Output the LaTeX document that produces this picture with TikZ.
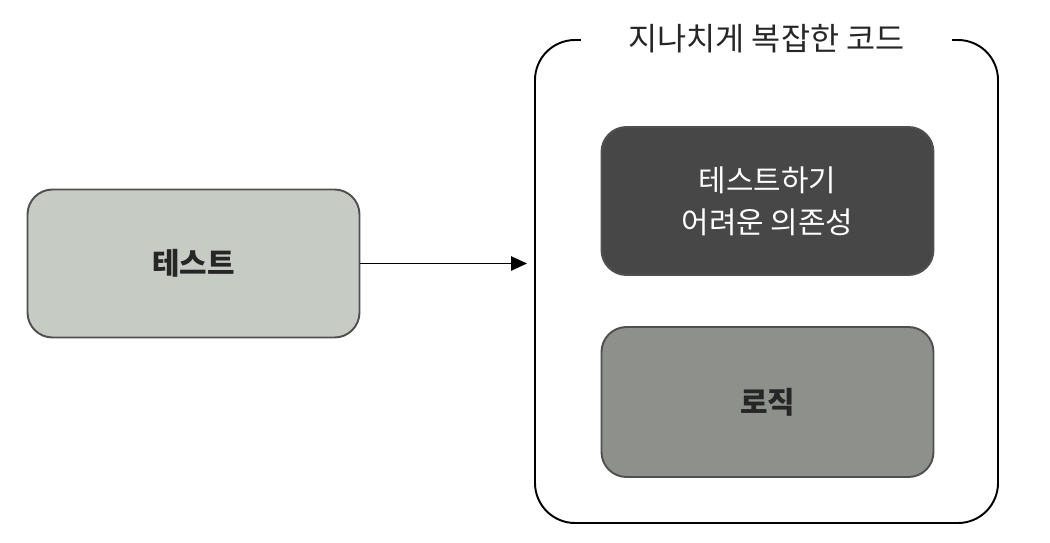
\documentclass[tikz,border=0pt]{standalone}
\usepackage{fontspec}
\usepackage{tikz}
\usetikzlibrary{arrows.meta,positioning}
\setmainfont{Noto Sans CJK KR}
\definecolor{TestBG}{HTML}{C6CBC4}
\definecolor{DepBG}{HTML}{474747}
\definecolor{LogicBG}{HTML}{8E908C}
\definecolor{BoxFrame}{HTML}{505050}
\definecolor{TextDark}{HTML}{262626}
\begin{document}
\begin{tikzpicture}[
    box/.style={draw=BoxFrame,line width=1.1pt,rounded corners=0.5cm,
      minimum width=6.64cm,minimum height=2.96cm,align=center},
    frame/.style={draw=black,line width=1.1pt,rounded corners=0.8cm,
      minimum width=9.26cm,minimum height=9.66cm}]
  \useasboundingbox (0,0) rectangle (21,10.84);
  % --- left: test ---
  \node[box,fill=TestBG,font=\fontsize{17}{20}\selectfont\bfseries,text=TextDark]
    (test) at (3.87,5.57) {테스트};
  % --- right: overly complex code ---
  \node[frame] (code) at (15.33,5.21) {};
  \node[fill=white,inner xsep=0.95cm,inner ysep=2pt,
    font=\fontsize{18}{20}\selectfont,text=TextDark] (title) at (code.north) {지나치게 복잡한 코드};
  \node[box,fill=DepBG,font=\fontsize{17}{24}\selectfont,text=white]
    (dep) at (15.35,6.82) {테스트하기\\어려운 의존성};
  \node[box,fill=LogicBG,font=\fontsize{17}{20}\selectfont\bfseries,text=TextDark,
    minimum height=3.0cm] (logic) at (15.35,2.8) {로직};
  % --- arrow ---
  \draw[-{Triangle[length=9pt,width=8pt]},line width=1.1pt,shorten >=4pt]
    (test.east) -- (test.east -| code.west);
\end{tikzpicture}
\end{document}
